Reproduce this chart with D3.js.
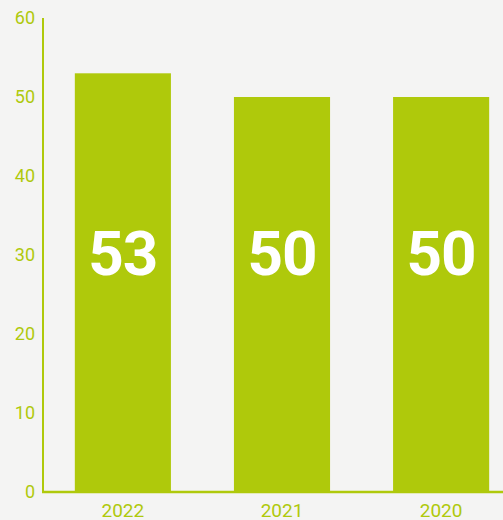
<!DOCTYPE html>
<html><head><meta charset="utf-8">
<script src="https://cdn.jsdelivr.net/npm/d3@7"></script>
<style>html,body{margin:0;padding:0;background:#f4f4f3;overflow:hidden}</style>
</head><body>
<svg id="c" width="503" height="520"></svg>
<script>
const categories = ["2022", "2021", "2020"];
const values = [53, 50, 50];
const yTicks = [0, 10, 20, 30, 40, 50, 60];

const green = "#afc90b";
const svg = d3.select("#c");
svg.append("rect").attr("width", 503).attr("height", 520).attr("fill", "#f4f4f3");

const x = d3.scaleBand().domain(categories).range([43, 521]).paddingInner(0.396).paddingOuter(0.2);
const y = d3.scaleLinear().domain([0, 60]).range([492, 18]);

svg.selectAll("rect.bar").data(values).join("rect").attr("class", "bar")
  .attr("x", (d, i) => x(categories[i]))
  .attr("width", x.bandwidth())
  .attr("y", d => y(d))
  .attr("height", d => y(0) - y(d))
  .attr("fill", green);

// axes lines
svg.append("line").attr("x1", 43).attr("x2", 43).attr("y1", y(60)).attr("y2", y(0) + 1)
  .attr("stroke", green).attr("stroke-width", 2);
svg.append("line").attr("x1", 42).attr("x2", 503).attr("y1", y(0)).attr("y2", y(0))
  .attr("stroke", green).attr("stroke-width", 2.5);

// y tick labels
svg.selectAll("text.yt").data(yTicks).join("text").attr("class", "yt")
  .attr("x", 35).attr("y", d => y(d)).attr("dy", "0.35em")
  .attr("text-anchor", "end")
  .attr("font-family", "Roboto").attr("font-size", 18).attr("fill", green)
  .text(d => d);

// x labels
svg.selectAll("text.xt").data(categories).join("text").attr("class", "xt")
  .attr("x", d => x(d) + x.bandwidth() / 2).attr("y", 517)
  .attr("text-anchor", "middle")
  .attr("font-family", "Roboto").attr("font-size", 19).attr("fill", green)
  .text(d => d);

// value labels
svg.selectAll("text.val").data(values).join("text").attr("class", "val")
  .attr("x", (d, i) => x(categories[i]) + x.bandwidth() / 2).attr("y", 275)
  .attr("text-anchor", "middle")
  .attr("font-family", "Roboto").attr("font-weight", "bold").attr("font-size", 62)
  .attr("fill", "#ffffff").attr("letter-spacing", -1)
  .text(d => d);
</script>
</body></html>
